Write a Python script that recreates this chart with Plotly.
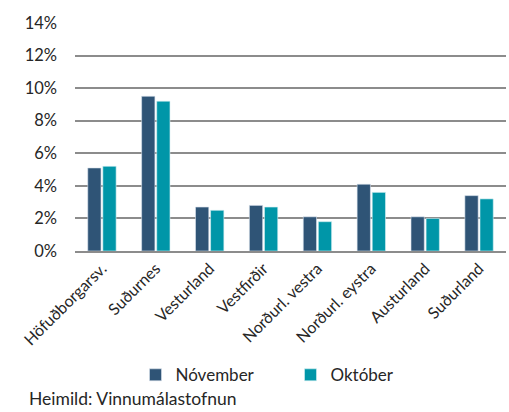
import plotly.graph_objects as go

categories = ["Höfuðborgarsv.", "Suðurnes", "Vesturland", "Vestfirðir",
              "Norðurl. vestra", "Norðurl. eystra", "Austurland", "Suðurland"]
november = [5.1, 9.5, 2.7, 2.8, 2.1, 4.1, 2.1, 3.4]
oktober = [5.2, 9.2, 2.5, 2.7, 1.8, 3.6, 2.0, 3.2]
y_ticks = [0, 2, 4, 6, 8, 10, 12, 14]
y_tick_labels = [f"{v}%" for v in y_ticks]

FONT = "Lato, Noto Sans, sans-serif"

fig = go.Figure()
fig.add_trace(go.Bar(x=categories, y=november, name="Nóvember",
                     marker=dict(color="#2F5476", line=dict(color="#dbe4ee", width=0.6))))
fig.add_trace(go.Bar(x=categories, y=oktober, name="Október",
                     marker=dict(color="#0096A8", line=dict(color="#d6f0f3", width=0.6))))

fig.update_layout(
    width=509, height=412,
    margin=dict(l=75, r=3, t=23, b=161),
    plot_bgcolor="white", paper_bgcolor="white",
    barmode="group", bargap=0.44, bargroupgap=0.12,
    font=dict(family=FONT, size=16, color="#262626"),
    xaxis=dict(tickangle=-45, showgrid=False, showline=True, linecolor="#8c8c8c",
               linewidth=2, ticks="", tickfont=dict(size=16)),
    yaxis=dict(range=[0, 14], tickvals=y_ticks, ticktext=y_tick_labels,
               showgrid=True, gridcolor="#8c8c8c", gridwidth=2, zeroline=False,
               ticks="", ticklabelstandoff=17, tickfont=dict(size=16.5)),
    legend=dict(orientation="h", x=0.5, xanchor="center", y=-0.545, yanchor="middle",
                font=dict(size=17), entrywidth=110, traceorder="normal"),
    annotations=[dict(text="Heimild: Vinnumálastofnun", x=-0.111, y=-0.645,
                      xref="paper", yref="paper", xanchor="left", yanchor="middle",
                      showarrow=False, font=dict(size=17.5))],
)

fig.write_html("out.html", config={"displayModeBar": False},
               post_script="document.body.style.margin='0';")
